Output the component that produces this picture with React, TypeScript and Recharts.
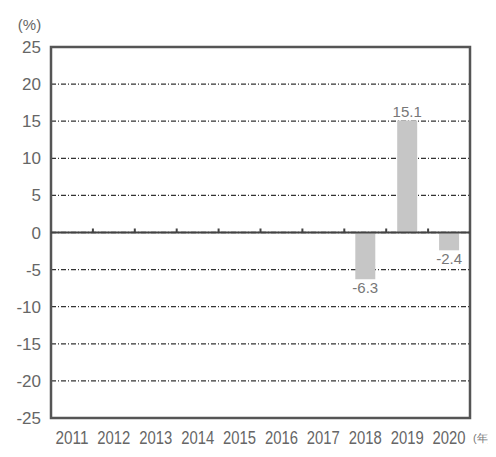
import React from "react";
import {
	Bar,
	BarChart,
	CartesianGrid,
	LabelList,
	ReferenceArea,
	ReferenceLine,
	XAxis,
	YAxis,
} from "recharts";

// Annual change (%), only the last three years are reported
const years = ["2011", "2012", "2013", "2014", "2015", "2016", "2017", "2018", "2019", "2020"];
const rates: (number | null)[] = [null, null, null, null, null, null, null, -6.3, 15.1, -2.4];
const yTicks = [25, 20, 15, 10, 5, 0, -5, -10, -15, -20, -25];

const data = years.map((year, i) => ({ year, rate: rates[i] }));

const sans = "'Liberation Sans', Arial, sans-serif";
const frame = "#555";

// condensed year labels, the unit follows the last one
function YearTick({ x, y, payload, index }: any) {
	const last = index === years.length - 1;
	return (
		<g>
			<text
				x={x}
				y={y}
				dy={14}
				textAnchor="middle"
				fontSize={18}
				fill="#666"
				fontFamily={sans}
				textLength={33}
				lengthAdjust="spacingAndGlyphs"
			>
				{payload.value}
			</text>
			{last && (
				<text x={x + 24} y={y} dy={12} fontSize={11} fill="#777" fontFamily={sans}>
					(年)
				</text>
			)}
		</g>
	);
}

// zero line with small ticks at the category boundaries
function ZeroLine(props: any) {
	const { x1, x2, y1 } = props;
	const step = (x2 - x1) / years.length;
	return (
		<g>
			<line x1={x1} x2={x2} y1={y1} y2={y1} stroke="#444" strokeWidth={2} />
			{years.slice(1).map((_, i) => (
				<line
					key={i}
					x1={x1 + step * (i + 1)}
					x2={x1 + step * (i + 1)}
					y1={y1}
					y2={y1 - 4}
					stroke="#444"
					strokeWidth={2}
				/>
			))}
		</g>
	);
}

export default function App() {
	return (
		<div style={{ width: 496, height: 457, background: "#fff", margin: -8 }}>
			<BarChart
				width={496}
				height={457}
				data={data}
				margin={{ top: 47, right: 26, left: 8, bottom: 9 }}
				style={{ overflow: "visible" }}
			>
				<CartesianGrid
					vertical={false}
					stroke="#333"
					strokeWidth={1.3}
					strokeDasharray="5 2 1 2"
				/>
				<XAxis
					dataKey="year"
					height={30}
					axisLine={false}
					tickLine={false}
					tickSize={0}
					tickMargin={12}
					interval={0}
					tick={<YearTick />}
				/>
				<YAxis
					domain={[-25, 25]}
					ticks={yTicks}
					width={43}
					axisLine={false}
					tickLine={false}
					tickSize={0}
					tickMargin={10}
					interval={0}
					tick={{ fontSize: 17, fill: "#666", fontFamily: sans }}
					label={{
						value: "(%)",
						position: "top",
						offset: 17,
						fontSize: 15,
						fill: "#666",
						fontFamily: sans,
					}}
				/>
				<ReferenceLine y={0} shape={<ZeroLine />} />
				<ReferenceArea
					y1={-25}
					y2={25}
					fill="none"
					fillOpacity={0}
					stroke={frame}
					strokeWidth={2.5}
				/>
				<Bar dataKey="rate" fill="#c6c6c6" barSize={20} isAnimationActive={false}>
					<LabelList
						dataKey="rate"
						position="top"
						offset={3}
						formatter={(v: any) => (v == null ? "" : String(v))}
						style={{ fontSize: 15, fill: "#777", fontFamily: sans }}
					/>
				</Bar>
			</BarChart>
		</div>
	);
}
